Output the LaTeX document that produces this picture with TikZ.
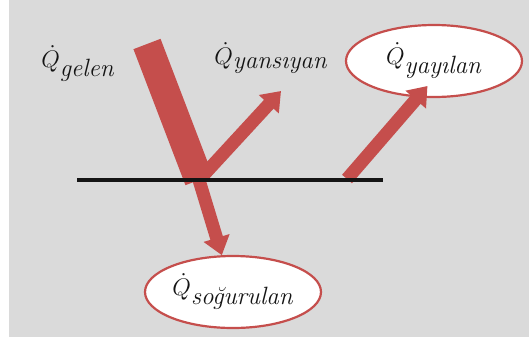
\documentclass[tikz,border=0pt]{standalone}
\usepackage{tikz}
\usetikzlibrary{arrows.meta, shapes.geometric, positioning}
\usepackage{xcolor}
\definecolor{BR}{RGB}{197,78,76}
\definecolor{BG}{RGB}{218,218,218}
\definecolor{DG}{RGB}{20,20,20}

\tikzset{
  lbl/.style={font=\fontsize{12.5}{14}\selectfont, text=DG, inner sep=0pt},
  oval/.style={lbl, ellipse, draw=BR, line width=1.1pt, fill=white,
    minimum width=88pt, minimum height=36pt},
  beam/.style={draw=BR, line width=14.5pt},
  ray/.style={draw=BR, line width=6.5pt,
    -{Triangle[length=9pt, width=13pt]}},
}

\begin{document}
\begin{tikzpicture}[x=0.5pt, y=-0.5pt]
\useasboundingbox (0,0) rectangle (530,343);
% background panel
\fill[BG] (9,0) rectangle (529,337);

% surface and points on it
\coordinate (surfL) at (77,180);
\coordinate (surfR) at (383,180);
\coordinate (hit)   at (199,180);
\coordinate (emit)  at (347,179);
\coordinate (src)   at (147,44);
\coordinate (rtip)  at (281,91);

% labels
\node[lbl] (gelen)    at (78,64)  {$\dot{Q}_{\mbox{\itshape gelen}}$};
\node[lbl] (yansiyan) at (271,58) {$\dot{Q}_{\mbox{\itshape yansıyan}}$};
\node[oval] (yayilan)   at (434,61)  {$\dot{Q}_{\mbox{\itshape yayılan}}$};
\node[oval] (sogurulan) at (233,292) {$\dot{Q}_{\mbox{\itshape soğurulan}}$};

% rays
\draw[ray] (hit) -- (rtip);
\draw[ray] (hit) -- (sogurulan);
\draw[beam] (src) -- (hit);
\draw[ray] (emit) -- ([yshift=6]yayilan.-100);

\draw[DG, line width=1.6pt] (surfL) -- (surfR);
\end{tikzpicture}
\end{document}
